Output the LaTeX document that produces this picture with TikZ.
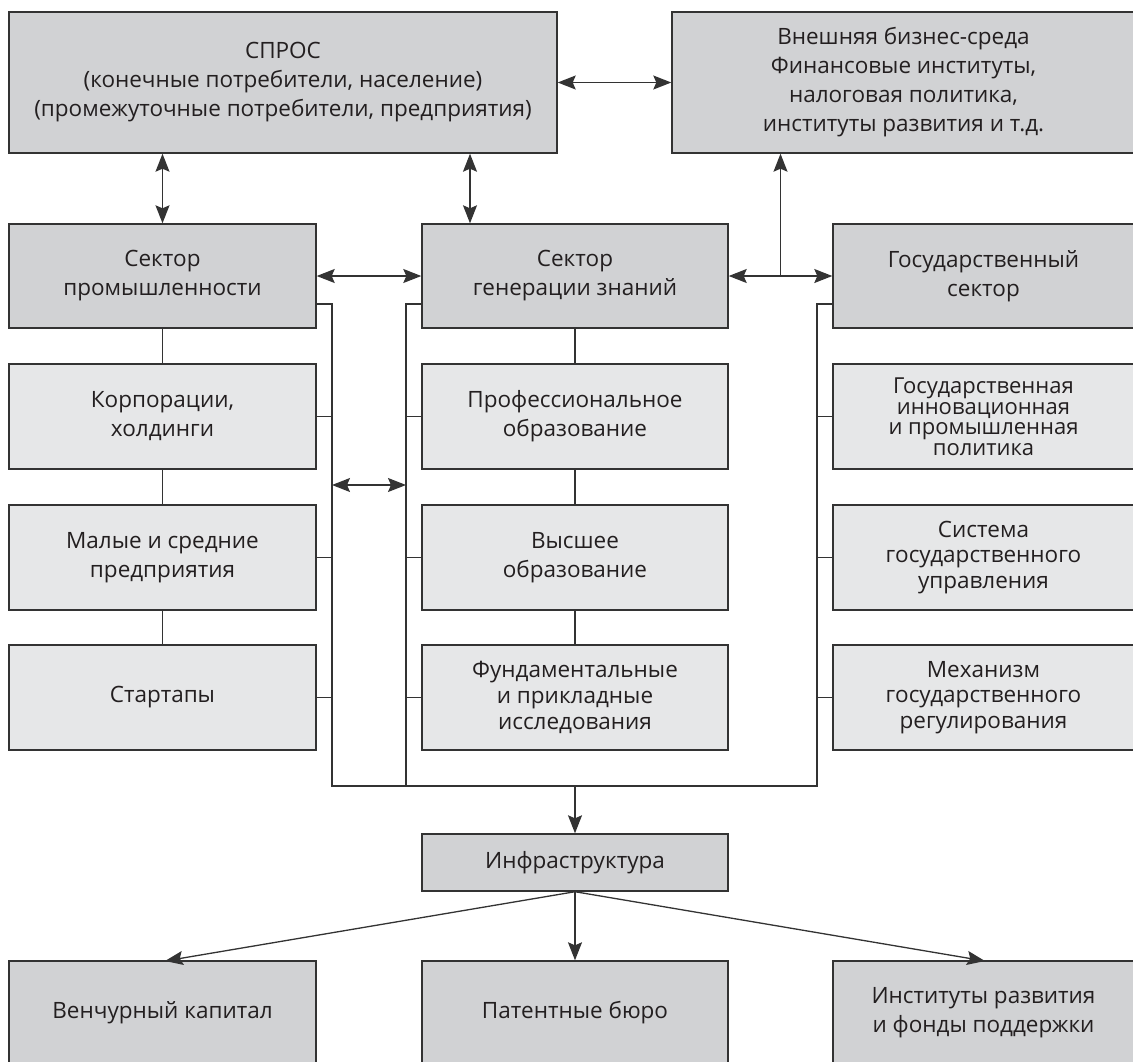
\documentclass[tikz,border=0pt]{standalone}
\usepackage{fontspec}
\setmainfont{Open Sans}
\usetikzlibrary{arrows.meta,calc}
\definecolor{dk}{HTML}{D1D2D4}
\definecolor{lt}{HTML}{E6E7E8}
\definecolor{bd}{HTML}{333333}
\definecolor{tx}{HTML}{231F20}
\begin{document}
\begin{tikzpicture}[x=1pt,y=-1pt,
  basebox/.style={draw=bd,line width=1.4pt,align=center,inner sep=0pt,text=tx,
    font=\fontsize{22.5}{29}\selectfont},
  dbox/.style={basebox,fill=dk},
  lbox/.style={basebox,fill=lt},
  ln/.style={draw=bd,line width=1.3pt},
  tip/.style={-{Stealth[length=18pt,width=14pt,inset=3pt]}},
  dtip/.style={{Stealth[length=18pt,width=14pt,inset=3pt]}-{Stealth[length=18pt,width=14pt,inset=3pt]}}
]
\useasboundingbox (0,0) rectangle (1133,1061);
\clip (0,0) rectangle (1133,1061);
% top row
\node[dbox,minimum width=548pt,minimum height=141pt] (spros) at (283,82.5)
  {СПРОС\\(конечные потребители, население)\\(промежуточные потребители, предприятия)};
\node[dbox,minimum width=463pt,minimum height=141pt] (ext) at (903.5,82.5)
  {Внешняя бизнес-среда\\Финансовые институты,\\налоговая политика,\\институты развития и т.д.};
% sectors
\node[dbox,minimum width=307pt,minimum height=104pt] (ind) at (162.5,276) {Сектор\\промышленности};
\node[dbox,minimum width=306pt,minimum height=104pt] (know) at (575,276) {Сектор\\генерации знаний};
\node[dbox,minimum width=301pt,minimum height=104pt] (gov) at (983.5,276) {Государственный\\сектор};
% column 1
\node[lbox,minimum width=307pt,minimum height=105pt] (c1a) at (162.5,416.5) {Корпорации,\\холдинги};
\node[lbox,minimum width=307pt,minimum height=105pt] (c1b) at (162.5,557.5) {Малые и средние\\предприятия};
\node[lbox,minimum width=307pt,minimum height=105pt] (c1c) at (162.5,697.5) {Стартапы};
% column 2
\node[lbox,minimum width=306pt,minimum height=105pt] (c2a) at (575,416.5) {Профессиональное\\образование};
\node[lbox,minimum width=306pt,minimum height=105pt] (c2b) at (575,557.5) {Высшее\\образование};
\node[lbox,minimum width=306pt,minimum height=105pt,font=\fontsize{22.5}{26}\selectfont] (c2c) at (575,697.5) {Фундаментальные\\и прикладные\\исследования};
% column 3
\node[lbox,minimum width=301pt,minimum height=105pt,font=\fontsize{22}{20.5}\selectfont] (c3a) at (983.5,416.5) {Государственная\\инновационная\\и промышленная\\политика};
\node[lbox,minimum width=301pt,minimum height=105pt,font=\fontsize{22.5}{25.5}\selectfont] (c3b) at (983.5,557.5) {Система\\государственного\\управления};
\node[lbox,minimum width=301pt,minimum height=105pt,font=\fontsize{22.5}{25.5}\selectfont] (c3c) at (983.5,697.5) {Механизм\\государственного\\регулирования};
% infrastructure
\node[dbox,minimum width=306pt,minimum height=57pt] (infra) at (575,862.5) {Инфраструктура};
\node[dbox,minimum width=307pt,minimum height=104pt] (b1) at (162.5,1013) {Венчурный капитал};
\node[dbox,minimum width=306pt,minimum height=104pt] (b2) at (575,1013) {Патентные бюро};
\node[dbox,minimum width=301pt,minimum height=104pt] (b3) at (983.5,1013) {Институты развития\\и фонды поддержки};
% coordinates
\coordinate (busL) at (332,786);
\coordinate (busM) at (406,786);
\coordinate (busR) at (817,786);
\coordinate (t) at ($(know.east)!0.5!(gov.west)$);
% connectors top
\draw[ln,dtip] (spros.east) -- (ext.west);
\draw[ln,dtip] (spros.south -| ind.north) -- (ind.north);
\draw[ln,dtip] (spros.south -| 470,0) -- (know.north -| 470,0);
\draw[ln,dtip] (ind.east) -- (know.west);
\draw[ln,dtip] (know.east) -- (gov.west);
\draw[ln,tip] (t) -- (t |- ext.south);
% vertical links in columns
\draw[ln] (ind.south) -- (c1a.north) (c1a.south) -- (c1b.north) (c1b.south) -- (c1c.north);
\draw[ln] (know.south) -- (c2a.north) (c2a.south) -- (c2b.north) (c2b.south) -- (c2c.north);
% buses
\draw[ln] ([yshift=-28pt]ind.east) -| (busL) -- (busR) |- ([yshift=-28pt]gov.west);
\draw[ln] ([yshift=-28pt]know.west) -| (busM);
\draw[ln] (c1a.east) -- (c1a.east -| busL) (c1b.east) -- (c1b.east -| busL) (c1c.east) -- (c1c.east -| busL);
\draw[ln] (c2a.west) -- (c2a.west -| busM) (c2b.west) -- (c2b.west -| busM) (c2c.west) -- (c2c.west -| busM);
\draw[ln] (c3a.west) -- (c3a.west -| busR) (c3b.west) -- (c3b.west -| busR) (c3c.west) -- (c3c.west -| busR);
\draw[ln,dtip] (332,485) -- (406,485);
% infrastructure arrows
\draw[ln,tip] (busL -| infra.north) -- (infra.north);
\draw[ln,tip] (infra.south) -- (b2.north);
\draw[ln,tip] (infra.south) -- (165,961);
\draw[ln,tip] (infra.south) -- (985,961);
\end{tikzpicture}
\end{document}
